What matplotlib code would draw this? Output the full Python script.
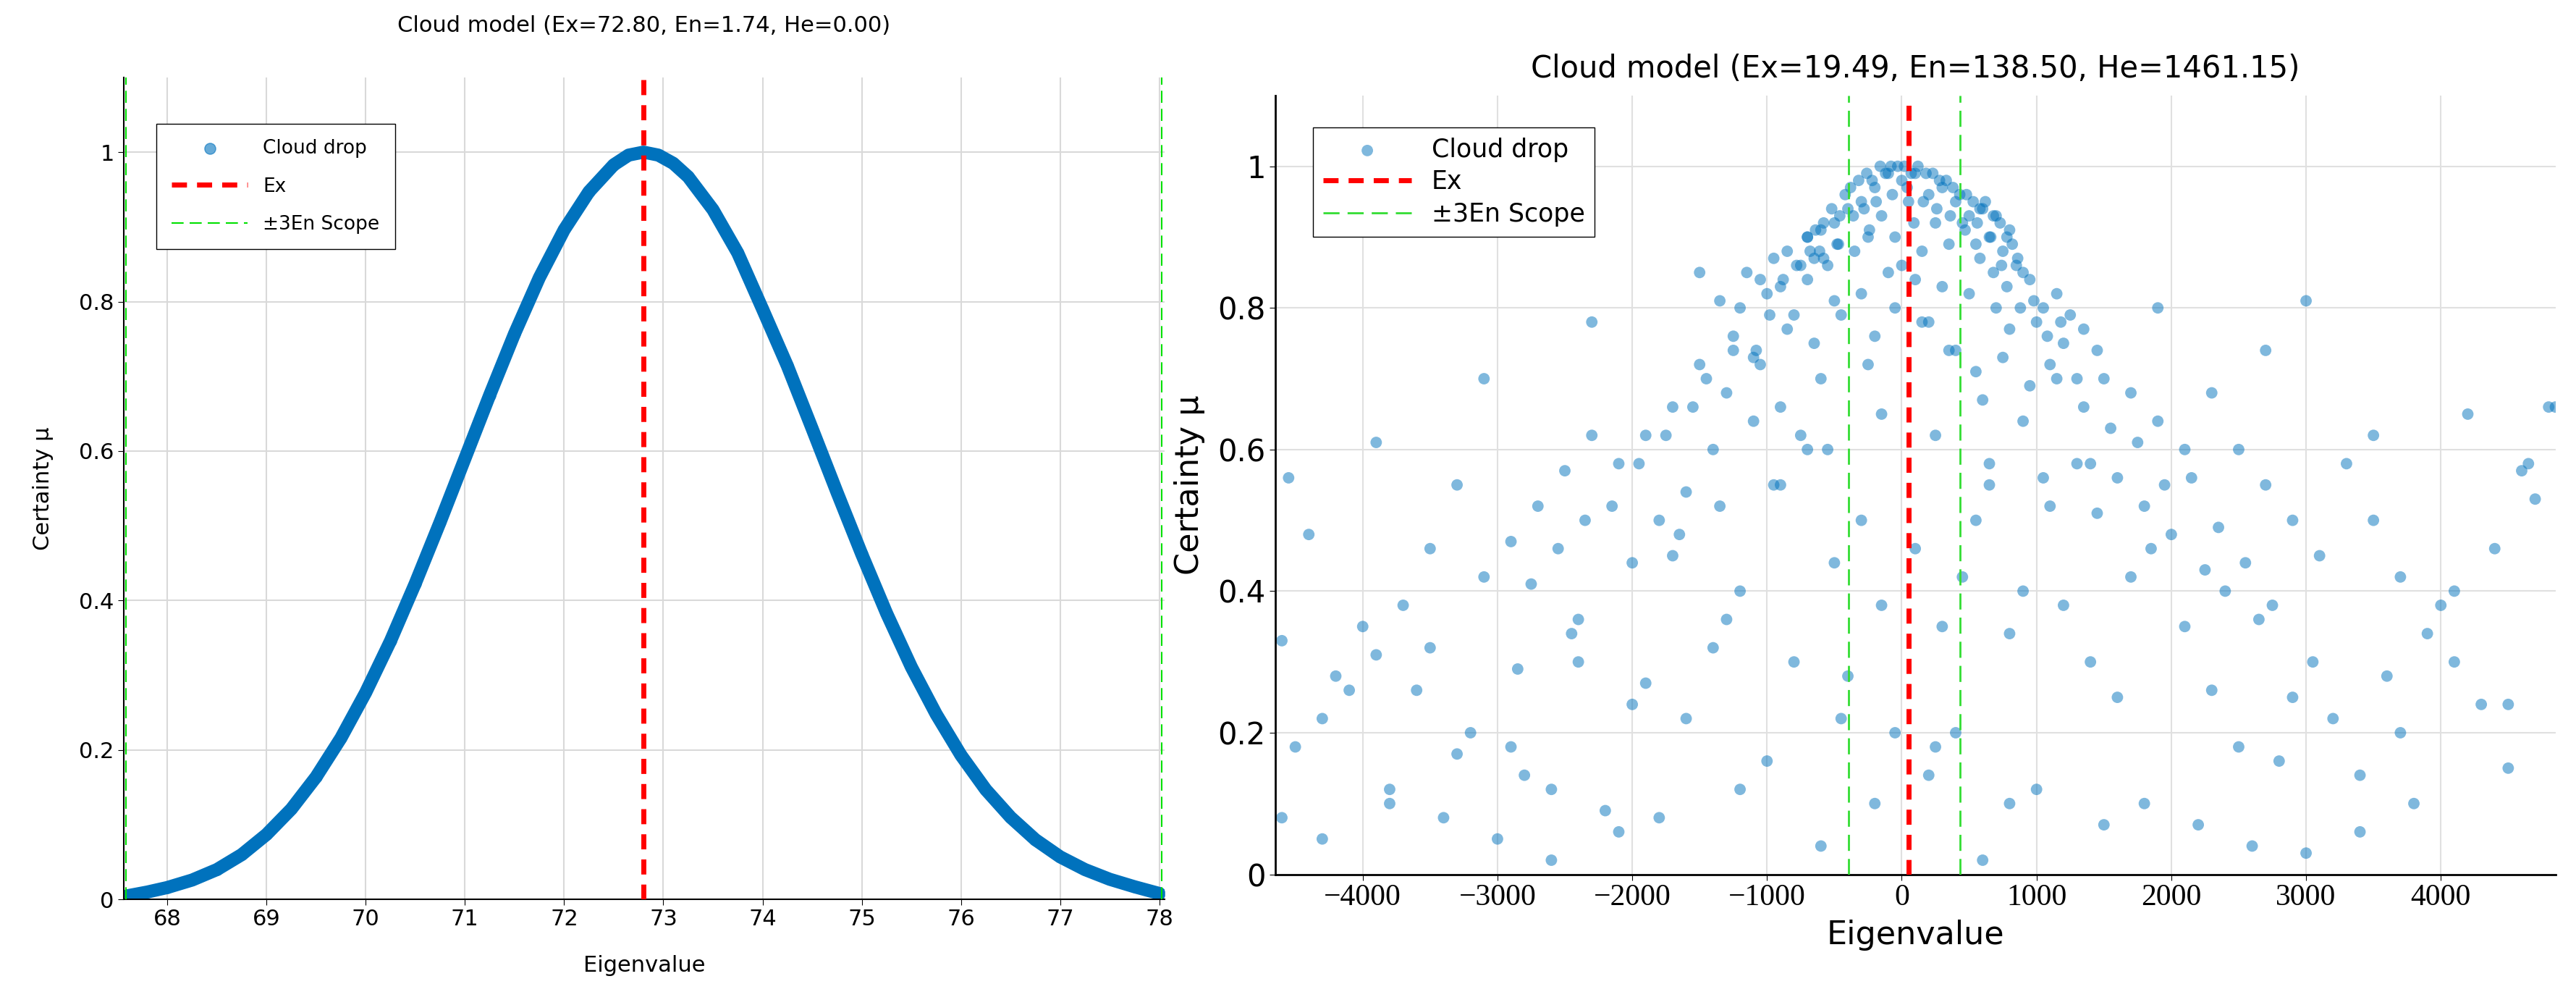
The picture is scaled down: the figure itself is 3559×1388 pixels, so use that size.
import matplotlib.pyplot as plt

# Left chart: cloud drops (He = 0, drops lie on one curve)
left_title = 'Cloud model (Ex=72.80, En=1.74, He=0.00)'
left_ex, left_en = 72.80, 1.74
left_x = [67.6, 67.8, 68.0, 68.25, 68.5, 68.75, 69.0, 69.25, 69.5, 69.75, 70.0, 70.25, 70.5, 70.75,
          71.0, 71.25, 71.5, 71.75, 72.0, 72.25, 72.5, 72.65, 72.8, 72.95, 73.1, 73.25, 73.5, 73.75,
          74.0, 74.25, 74.5, 74.75, 75.0, 75.25, 75.5, 75.75, 76.0, 76.25, 76.5, 76.75, 77.0, 77.25,
          77.5, 77.75, 78.0]
left_y = [0.005, 0.010, 0.016, 0.026, 0.040, 0.060, 0.087, 0.121, 0.164, 0.216, 0.277, 0.346, 0.423,
          0.505, 0.590, 0.675, 0.757, 0.832, 0.896, 0.947, 0.983, 0.996, 1.000, 0.996, 0.985, 0.967,
          0.923, 0.865, 0.790, 0.714, 0.630, 0.545, 0.462, 0.383, 0.311, 0.248, 0.193, 0.147, 0.110,
          0.080, 0.057, 0.040, 0.027, 0.017, 0.008]
left_ticks = [68, 69, 70, 71, 72, 73, 74, 75, 76, 77, 78]

# Right chart: scattered cloud drops
right_title = 'Cloud model (Ex=19.49, En=138.50, He=1461.15)'
right_ex, right_en = 19.49, 138.50
right_x = [
    -200, -100, 0, 100, 200, 300, -300, 400, -400, 500, -500, 600, -600, 700, -700, 800,
    -150, 50, 250, -250, 350, -350, 450, 150, -50, 550, -550, 650, -650, 750,
    -100, 100, 300, -300, 0, 500, -500, 700, -700, 900, -900, 200, -200, 400,
    -800, 800, -1000, 1000, -1100, 1100, -1200, 1200, -1300, 1300, -900, 900, -600, 600,
    -1500, 1500, -1700, 1700, -1900, 1900, -2100, 2100, -1400, 1400, -1600, 1600, -1800, 1800,
    -2300, 2300, -2500, 2500, -2700, 2700, -2900, 2900, -3100, 3100, -2000, 2000, -2400, 2400,
    -3300, 3300, -3500, 3500, -3700, 3700, -3900, 3900, -4100, 4100, -4300, 4300, -4500, 4500,
    -4600, 4700, -4200, 4400, -3800, 3800, -3400, 3400, -3000, 3000, -2600, 2600, -2200, 2200,
    -1200, 1200, -800, 800, -400, 400, -1600, 1600, -1000, 1000, -200, 200, -600, 600,
    -4400, 4600, -4000, 4000, -3600, 3600, -3200, 3200, -2800, 2800, -1800, 1800, -1400, 1400,
    -4550, 4800, -3900, 4200, -3100, 3500, -2300, 2700, -1500, 1900, -700, 1100, 100, -300,
    -2000, 2500, -1300, 1700, -500, 900, 300, -900, -2600, 3000, -3500, 4100, -4300, 4650,
    -1100, 1300, -1700, 2100, -2400, 2900, -3300, 3700, -750, 650, -150, 450, -1900, 2300,
    -2900, 3400, -3800, 4500, -4600, 4850, -2100, 1500, -1200, 800, -450, 250, -50, 550,
    # dense cap near the peak
    -420, -380, -320, -260, -220, -160, -120, -80, -30, 20, 70, 120, 180, 230, 280, 330,
    380, 430, 480, 530, 580, 620, 680, 730, -460, -520, -580, -640, -700, 780, 820, 860,
    -360, -280, -190, -70, 40, 160, 260, 360, 470, 560, 660, -470, -610, 740, -240, 90,
    -750, -850, -950, -1050, 850, 950, 1050, 1150, -1150, 1250, -1250, -1350, 1350, 1450,
    -880, -780, -680, -580, -480, 580, 680, 780, 880, 980, -980, 1080, -1080, 1180,
    # middle band
    -1550, -1450, -1250, -1050, -850, -650, -450, -250, -50, 150, 350, 550, 750, 950, 1150,
    1350, 1550, 1750, 1950, -1750, -1950, -2150, 2150, -2350, 2350, -2550, 2550, -2750, 2750,
    -1650, -1350, -950, -550, -150, 250, 650, 1050, 1450, 1850, 2250, 2650, 3050, -2450, -2850,
]
right_y = [
    0.97, 0.99, 0.98, 0.99, 0.96, 0.97, 0.95, 0.95, 0.94, 0.93, 0.92, 0.94, 0.91, 0.93, 0.90, 0.91,
    0.93, 0.95, 0.92, 0.90, 0.89, 0.88, 0.92, 0.88, 0.90, 0.89, 0.86, 0.90, 0.87, 0.88,
    0.85, 0.84, 0.83, 0.82, 0.86, 0.82, 0.81, 0.80, 0.84, 0.85, 0.83, 0.78, 0.76, 0.74,
    0.79, 0.77, 0.82, 0.78, 0.73, 0.72, 0.80, 0.75, 0.68, 0.70, 0.66, 0.64, 0.70, 0.67,
    0.72, 0.70, 0.66, 0.68, 0.62, 0.64, 0.58, 0.60, 0.60, 0.58, 0.54, 0.56, 0.50, 0.52,
    0.62, 0.68, 0.57, 0.60, 0.52, 0.55, 0.47, 0.50, 0.42, 0.45, 0.44, 0.48, 0.36, 0.40,
    0.55, 0.58, 0.46, 0.50, 0.38, 0.42, 0.31, 0.34, 0.26, 0.30, 0.22, 0.24, 0.18, 0.15,
    0.33, 0.53, 0.28, 0.46, 0.12, 0.10, 0.08, 0.06, 0.05, 0.03, 0.02, 0.04, 0.09, 0.07,
    0.40, 0.38, 0.30, 0.34, 0.28, 0.20, 0.22, 0.25, 0.16, 0.12, 0.10, 0.14, 0.04, 0.02,
    0.48, 0.57, 0.35, 0.38, 0.26, 0.28, 0.20, 0.22, 0.14, 0.16, 0.08, 0.10, 0.32, 0.30,
    0.56, 0.66, 0.61, 0.65, 0.70, 0.62, 0.78, 0.74, 0.85, 0.80, 0.60, 0.52, 0.46, 0.50,
    0.24, 0.18, 0.36, 0.42, 0.44, 0.40, 0.35, 0.55, 0.12, 0.81, 0.32, 0.40, 0.05, 0.58,
    0.64, 0.58, 0.45, 0.35, 0.30, 0.25, 0.17, 0.20, 0.62, 0.55, 0.38, 0.42, 0.27, 0.26,
    0.18, 0.14, 0.10, 0.24, 0.08, 0.66, 0.06, 0.07, 0.12, 0.10, 0.22, 0.18, 0.20, 0.50,
    0.96, 0.97, 0.98, 0.99, 0.98, 1.00, 0.99, 1.00, 1.00, 1.00, 0.99, 1.00, 0.99, 0.99, 0.98, 0.98,
    0.97, 0.96, 0.96, 0.95, 0.94, 0.95, 0.93, 0.92, 0.93, 0.94, 0.92, 0.91, 0.90, 0.90, 0.89, 0.87,
    0.93, 0.94, 0.95, 0.96, 0.97, 0.95, 0.94, 0.93, 0.91, 0.92, 0.90, 0.89, 0.88, 0.86, 0.91, 0.92,
    0.86, 0.88, 0.87, 0.84, 0.86, 0.84, 0.80, 0.82, 0.85, 0.79, 0.76, 0.81, 0.77, 0.74,
    0.84, 0.86, 0.88, 0.87, 0.89, 0.87, 0.85, 0.83, 0.80, 0.81, 0.79, 0.76, 0.74, 0.78,
    0.66, 0.70, 0.74, 0.72, 0.77, 0.75, 0.79, 0.72, 0.80, 0.78, 0.74, 0.71, 0.73, 0.69, 0.70,
    0.66, 0.63, 0.61, 0.55, 0.62, 0.58, 0.52, 0.56, 0.50, 0.49, 0.46, 0.44, 0.41, 0.38,
    0.48, 0.52, 0.55, 0.60, 0.65, 0.62, 0.58, 0.56, 0.51, 0.46, 0.43, 0.36, 0.30, 0.34, 0.29,
]
right_ticks = [-4000, -3000, -2000, -1000, 0, 1000, 2000, 3000, 4000]

drop_color = '#0072BD'

fig = plt.figure(figsize=(35.59, 13.88), dpi=100)

# ---- left panel
ax1 = fig.add_axes([0.048, 0.105, 0.404, 0.818])
ax1.plot(left_x, left_y, color=drop_color, lw=13, solid_capstyle='round', zorder=2)
ax1.scatter(left_x, left_y, s=120, color=drop_color, alpha=0.6, zorder=2, label='Cloud drop')
ax1.axvline(left_ex, color='red', ls='--', lw=5, dashes=(3, 2), label='Ex', zorder=3)
ax1.axvline(left_ex - 3 * left_en, color='#00E000', ls='--', lw=1.5, dashes=(8, 4),
            label='±3En Scope', zorder=3)
ax1.axvline(left_ex + 3 * left_en, color='#00E000', ls='--', lw=1.5, dashes=(8, 4), zorder=3)
ax1.set_xlim(67.56, 78.05)
ax1.set_ylim(0, 1.1)
ax1.set_xticks(left_ticks)
ax1.set_yticks([0, 0.2, 0.4, 0.6, 0.8, 1])
ax1.set_yticklabels(['0', '0.2', '0.4', '0.6', '0.8', '1'])
ax1.grid(color='#d9d9d9', lw=1.5)
ax1.set_title(left_title, fontsize=22, pad=45)
ax1.set_xlabel('Eigenvalue', fontsize=22, labelpad=25)
ax1.set_ylabel('Certainty μ', fontsize=22, labelpad=25)
ax1.tick_params(labelsize=22, length=6)
for s in ['top', 'right']:
    ax1.spines[s].set_visible(False)
ax1.spines['left'].set_linewidth(1.5)
ax1.spines['bottom'].set_linewidth(1.5)
ax1.legend(loc='upper left', bbox_to_anchor=(0.022, 0.955), fontsize=19, fancybox=False,
           edgecolor='black', framealpha=1, borderpad=0.8, labelspacing=1.0, handlelength=4)

# ---- right panel
ax2 = fig.add_axes([0.495, 0.13, 0.497, 0.775])
ax2.scatter(right_x, right_y, s=130, color=drop_color, alpha=0.5, edgecolors='none',
            zorder=2, label='Cloud drop')
ax2.axvline(right_ex + 30, color='red', ls='--', lw=5, dashes=(3, 2), label='Ex', zorder=3)
ax2.axvline(right_ex - 3 * right_en, color='#33DD33', ls='--', lw=2, dashes=(8, 4),
            label='±3En Scope', zorder=3)
ax2.axvline(right_ex + 3 * right_en, color='#33DD33', ls='--', lw=2, dashes=(8, 4), zorder=3)
ax2.set_xlim(-4650, 4850)
ax2.set_ylim(0, 1.1)
ax2.set_xticks(right_ticks)
ax2.set_xticklabels(['−4000', '−3000', '−2000', '−1000', '0', '1000', '2000', '3000', '4000'],
                    fontfamily='Liberation Serif')
ax2.set_yticks([0, 0.2, 0.4, 0.6, 0.8, 1])
ax2.set_yticklabels(['0', '0.2', '0.4', '0.6', '0.8', '1'])
ax2.grid(color='#e0e0e0', lw=1.5)
ax2.set_title(right_title, fontsize=30, pad=18)
ax2.set_xlabel('Eigenvalue', fontsize=32, labelpad=8)
ax2.set_ylabel('Certainty μ', fontsize=32, labelpad=12)
ax2.tick_params(labelsize=30, length=6)
for s in ['top', 'right']:
    ax2.spines[s].set_visible(False)
ax2.spines['left'].set_linewidth(2)
ax2.spines['bottom'].set_linewidth(2)
ax2.legend(loc='upper left', bbox_to_anchor=(0.02, 0.975), fontsize=25, fancybox=False,
           edgecolor='black', framealpha=1, borderpad=0.4, labelspacing=0.3, handlelength=3.5)

fig.savefig('out.png', dpi=100, facecolor='white')
